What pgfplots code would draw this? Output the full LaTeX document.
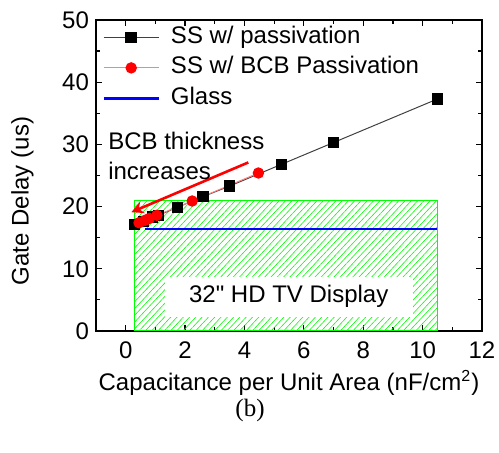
\documentclass[border=0pt]{standalone}
\usepackage{pgfplots}
\pgfplotsset{compat=1.18}
\usepackage{fontspec}
\setmainfont{Liberation Sans}
\newfontfamily\plainsans{Liberation Sans}
\newfontfamily\seriffont{Liberation Serif}
\usetikzlibrary{arrows.meta,patterns.meta}
\begin{document}
\begin{tikzpicture}
\useasboundingbox (-48pt,-61pt) rectangle (201.5pt,165.5pt);
\begin{axis}[
  at={(0,0)}, anchor=south west,
  scale only axis, width=193pt, height=155.5pt,
  xmin=-1, xmax=12, ymin=0, ymax=50,
  xtick={0,2,...,12}, ytick={0,10,...,50},
  minor x tick num=1, minor y tick num=1,
  tick align=inside, major tick length=3pt, minor tick length=2pt,
  every tick/.style={black, line width=0.6pt},
  axis line style={line width=0.9pt},
  font=\fontsize{12}{14}\selectfont,
  /pgf/number format/assume math mode=true,
  xticklabel style={yshift=-2pt},
  xlabel={Capacitance per Unit Area (nF/cm\textsuperscript{2})},
  ylabel={Gate Delay (us)},
  xlabel style={at={(axis description cs:0.5,0)}, anchor=center, yshift=-26pt},
  ylabel style={at={(axis description cs:0,0.418)}, anchor=center, yshift=36.75pt},
  legend cell align=left,
  legend style={draw=none, fill=none, inner sep=0pt, at={(axis description cs:0,1)}, anchor=north west, xshift=3pt, yshift=-2.5pt,
    row sep=3.25pt, nodes={inner sep=0pt, text height=9pt, text depth=3pt},
    /tikz/every odd column/.append style={column sep=5.5pt}},
  legend image code/.code={\draw[mark repeat=2,mark phase=2] plot coordinates {(0cm,0cm) (0.485cm,0cm) (0.97cm,0cm)};},
]
% 32" HD TV display region
\addplot[draw=green, line width=0.6pt, pattern={Lines[angle=47,distance=2.3pt,line width=0.3pt]}, pattern color=green, forget plot]
  coordinates {(0.3,0) (10.5,0) (10.5,21) (0.3,21) (0.3,0)};
\node[fill=white, minimum width=124pt, minimum height=20pt, inner sep=0pt, font=\plainsans\fontsize{12}{14}\selectfont] at (axis cs:5.49,5.5) {32" HD TV Display};

\addplot[color=black!75, line width=0.5pt, mark=square*, mark size=2.6pt, mark options={fill=black, draw=black}]
  coordinates {(0.3,17.1) (0.6,17.6) (0.9,18.3) (1.1,18.6) (1.75,19.9) (2.6,21.6) (3.5,23.3) (5.25,26.8) (7.0,30.3) (10.5,37.3)};
\addlegendentry{SS w/ passivation}
\addplot[color=red!50, line width=0.5pt, mark=*, mark size=2.6pt, mark options={fill=red, draw=red}]
  coordinates {(0.45,17.4) (0.65,17.8) (0.8,18.1) (1.05,18.6) (2.24,20.9) (4.47,25.4)};
\addlegendentry{SS w/ BCB Passivation}
\addplot[color=blue, line width=1.2pt]
  coordinates {(0.65,16.35) (10.5,16.35)};
\addlegendentry{Glass}

\draw[red, line width=1.3pt, -{Stealth[length=6pt,width=6pt]}] (axis cs:4.13,27.1) -- (axis cs:0.19,19.1);
\node[anchor=north west, align=left, inner sep=0pt, font=\fontsize{12}{15}\selectfont] at (axis cs:-0.6,32.0) {BCB thickness\\increases};
\end{axis}
\node[font=\seriffont\fontsize{12.5}{14}\selectfont] at (77pt,-39.5pt) {(b)};
\end{tikzpicture}
\end{document}
